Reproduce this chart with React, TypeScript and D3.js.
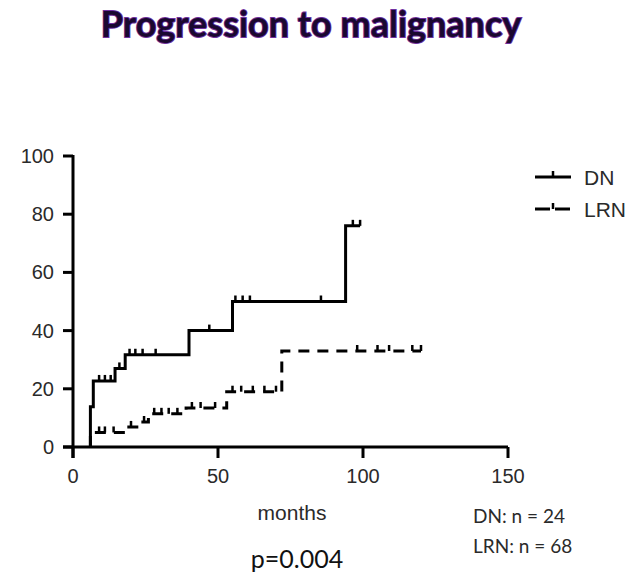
import React from "react";
import * as d3 from "d3";

// cumulative incidence (%) at each event time, months
const dnEvents = [[6, 0], [6, 13.8], [7, 22.7], [14.5, 27], [18, 31.7], [40, 40], [55, 50], [94, 76], [99, 76]];
const dnCensored = [[9, 22.7], [11, 22.7], [13, 22.7], [16, 27], [19.5, 31.7], [21.5, 31.7], [24, 31.7], [28.5, 31.7],
  [47, 40], [56, 50], [58.5, 50], [61, 50], [85.5, 50], [96.5, 76], [99, 76]];

const lrnEvents = [[6, 0], [6, 5], [18, 6.9], [23, 8.6], [26, 11.4], [39, 13.4], [53, 19], [72, 33], [120, 33]];
const lrnCensored = [[9, 5], [11, 5], [14, 5], [20, 6.9], [24.5, 8.6], [28, 11.4], [30.5, 11.4], [33, 11.4], [36, 11.4],
  [41, 13.4], [44, 13.4], [49, 13.4], [55, 19], [58, 19], [62, 19], [66, 19], [70, 19],
  [98, 33], [105, 33], [109, 33], [117, 33], [120, 33]];

const xTicks = [0, 50, 100, 150];
const yTicks = [0, 20, 40, 60, 80, 100];
const groups = ["DN", "LRN"];
const groupSizes = [24, 68];

const W = 639;
const H = 578;

export default function App() {
  const x = d3.scaleLinear().domain([0, 150]).range([73, 508]);
  const y = d3.scaleLinear().domain([0, 100]).range([447, 156]);

  const line = d3.line<number[]>()
    .x(d => x(d[0]))
    .y(d => y(d[1]))
    .curve(d3.curveStepAfter);

  const tickFont = "'Liberation Sans', Arial, sans-serif";
  const calibri = "Lato, 'Open Sans', sans-serif";

  const marks = (pts: number[][]) =>
    pts.map((p, i) => (
      <line key={i} x1={x(p[0])} x2={x(p[0])} y1={y(p[1])} y2={y(p[1]) - 6}
        stroke="#000" strokeWidth={2.5} />
    ));

  return (
    <svg width={W} height={H} style={{position: "absolute", left: 0, top: 0, background: "#fff"}}>
      <text x={311} y={37} textAnchor="middle" fontFamily={calibri} fontWeight="bold" fontSize={36}
        fill="#1a0830" stroke="#7030a0" strokeWidth={1.8} paintOrder="stroke">
        Progression to malignancy
      </text>

      {/* axes */}
      <g stroke="#000" strokeWidth={3} fill="none">
        <line x1={x(0)} x2={x(0)} y1={y(100) - 1} y2={y(0) + 11} />
        <line x1={x(0) - 10} x2={x(150)} y1={y(0)} y2={y(0)} />
        {yTicks.map(t => <line key={t} x1={x(0) - 10} x2={x(0)} y1={y(t)} y2={y(t)} />)}
        {xTicks.map(t => <line key={t} x1={x(t)} x2={x(t)} y1={y(0)} y2={y(0) + 11} />)}
      </g>
      <g fontFamily={tickFont} fontSize={20} fill="#2a2a2a">
        {yTicks.map(t => (
          <text key={t} x={x(0) - 19} y={y(t) + 7} textAnchor="end">{t}</text>
        ))}
        {xTicks.map(t => (
          <text key={t} x={x(t)} y={y(0) + 36} textAnchor="middle">{t}</text>
        ))}
        <text x={292} y={520} textAnchor="middle" fontSize={21}>months</text>
      </g>

      {/* curves */}
      <path d={line(dnEvents as any) || ""} fill="none" stroke="#000" strokeWidth={3} />
      {marks(dnCensored)}
      <path d={line(lrnEvents as any) || ""} fill="none" stroke="#000" strokeWidth={3}
        strokeDasharray="11 8" />
      {marks(lrnCensored)}

      {/* legend */}
      {groups.map((g, i) => {
        const ly = 177 + i * 32;
        return (
          <g key={g}>
            <line x1={535} x2={571} y1={ly} y2={ly} stroke="#000" strokeWidth={3}
              strokeDasharray={i === 1 ? "15 5" : undefined} />
            <line x1={553} x2={553} y1={ly} y2={ly - 6} stroke="#000" strokeWidth={2.5} />
            <text x={584} y={ly + 8} fontFamily={tickFont} fontSize={21} fill="#2a2a2a">{g}</text>
          </g>
        );
      })}

      <g fontFamily={calibri} fontSize={19} fill="#2a2a2a">
        {groups.map((g, i) => (
          <text key={g} x={473} y={523 + i * 30}>{`${g}: n = ${groupSizes[i]}`}</text>
        ))}
      </g>
      <text x={297} y={568} textAnchor="middle" fontFamily={calibri} fontSize={25} fill="#111">p=0.004</text>
    </svg>
  );
}
